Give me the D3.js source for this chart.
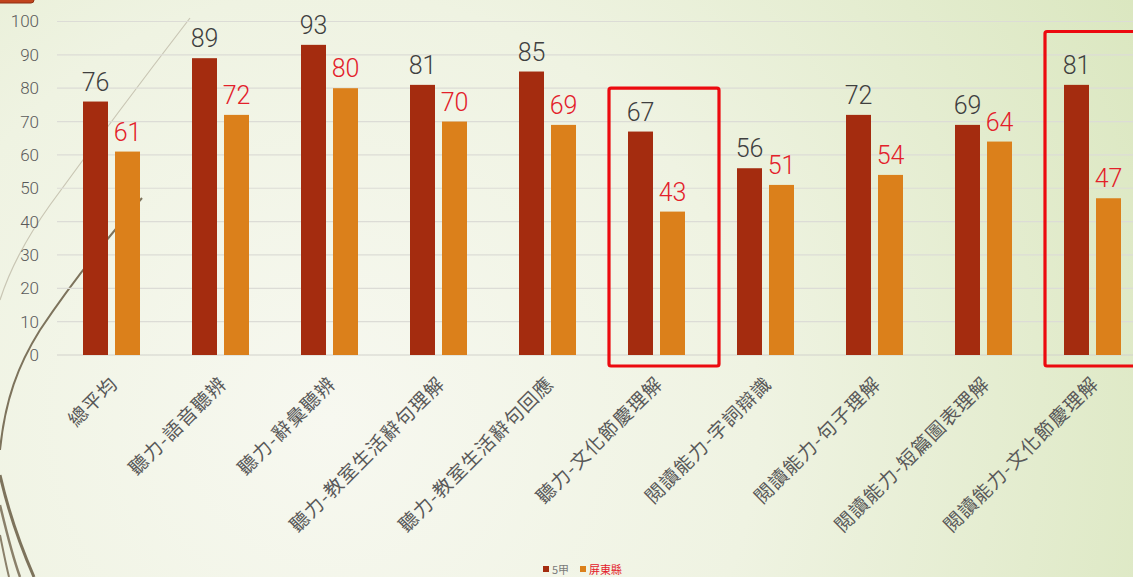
<!DOCTYPE html>
<html>
<head>
<meta charset="utf-8">
<script src="https://cdn.jsdelivr.net/npm/d3@7"></script>
<style>
  html, body { margin: 0; padding: 0; overflow: hidden; }
  svg { display: block; }
</style>
</head>
<body>
<svg id="chart" width="1133" height="577"></svg>
<script>
const categories = ["總平均","聽力-語音聽辨","聽力-辭彙聽辨","聽力-教室生活辭句理解","聽力-教室生活辭句回應","聽力-文化節慶理解","閱讀能力-字詞辯識","閱讀能力-句子理解","閱讀能力-短篇圖表理解","閱讀能力-文化節慶理解"];
const seriesNames = ["5甲","屏東縣"];
const class5 = [76,89,93,81,85,67,56,72,69,81];
const county = [61,72,80,70,69,43,51,54,64,47];
const yTicks = [0,10,20,30,40,50,60,70,80,90,100];
const highlighted = ["聽力-文化節慶理解","閱讀能力-文化節慶理解"];

const W = 1133, H = 577;
const svg = d3.select("#chart");
const defs = svg.append("defs");
const rg = defs.append("radialGradient").attr("id","bg")
  .attr("gradientUnits","userSpaceOnUse").attr("cx",330).attr("cy",420).attr("r",950);
rg.append("stop").attr("offset","0").attr("stop-color","#f7f8f0");
rg.append("stop").attr("offset","0.45").attr("stop-color","#eff3e2");
rg.append("stop").attr("offset","1").attr("stop-color","#d9e6bd");
svg.append("rect").attr("width",W).attr("height",H).attr("fill","url(#bg)");

// decorative wisp curves (theme background)
const deco = svg.append("g").attr("fill","none");
deco.append("path").attr("d","M190,18 C150,70 90,150 50,205 C25,240 8,275 0,300")
  .attr("stroke","#c9c6b4").attr("stroke-width",1.2);
deco.append("path").attr("d","M142,198 C110,235 70,285 40,330 C18,365 5,400 0,450")
  .attr("stroke","#7d735c").attr("stroke-width",2);
deco.append("path").attr("d","M0,475 C8,510 20,545 34,577")
  .attr("stroke","#7d735c").attr("stroke-width",3);
deco.append("path").attr("d","M0,505 C6,530 12,555 20,577")
  .attr("stroke","#8a806a").attr("stroke-width",2.5);
deco.append("path").attr("d","M0,535 C3,550 6,565 9,577")
  .attr("stroke","#8a806a").attr("stroke-width",2);

// top-left tab
svg.append("rect").attr("x",-4).attr("y",-10).attr("width",38).attr("height",13).attr("rx",3)
  .attr("fill","#c1441d").attr("stroke","#8f2f12").attr("stroke-width",1);

const y = d3.scaleLinear().domain([0,100]).range([355,21.5]);
const x = d3.scaleBand().domain(categories).range([56.5,1146.5]);
const xs = d3.scaleBand().domain(seriesNames).range([26.5,83.5]).paddingInner(0.219);

const numFont = "Roboto, 'Liberation Sans', sans-serif";
const cjkFont = "'Noto Sans CJK TC', 'Noto Sans CJK SC', sans-serif";

// grid lines
svg.append("g").selectAll("line").data(yTicks).join("line")
  .attr("x1",57).attr("x2",W).attr("y1",d=>y(d)).attr("y2",d=>y(d))
  .attr("stroke",d=>d===0?"#d2d2cc":"#dcdcd6").attr("stroke-width",1.2);

// y axis labels
const yAxis = d3.axisLeft(y).tickValues(yTicks).tickSize(0).tickPadding(0);
const yg = svg.append("g").attr("transform","translate(39,0)").call(yAxis);
yg.select(".domain").remove();
yg.selectAll("text").attr("font-family",numFont).attr("font-weight",300)
  .attr("font-size",17).attr("fill","#5a5a5a");

const colors = {"5甲":"#a42c0f","屏東縣":"#db801b"};
const labelColors = {"5甲":"#3f3f3f","屏東縣":"#e3202a"};
const rows = categories.map((c,i)=>({cat:c, vals:[{s:"5甲",v:class5[i]},{s:"屏東縣",v:county[i]}]}));

// red highlight boxes
const boxes = svg.append("g");
highlighted.forEach((c,k)=>{
  const bx = x(c);
  const top = k===0 ? y(80) : y(97);
  boxes.append("rect").attr("x",bx+7.5).attr("y",top).attr("width",110)
    .attr("height",y(0)+11-top).attr("rx",2)
    .attr("fill","none").attr("stroke","#ec0a0f").attr("stroke-width",3.2);
});

const groups = svg.append("g").selectAll("g").data(rows).join("g")
  .attr("transform",d=>`translate(${x(d.cat)},0)`);
groups.selectAll("rect").data(d=>d.vals).join("rect")
  .attr("x",d=>xs(d.s)).attr("width",xs.bandwidth())
  .attr("y",d=>y(d.v)).attr("height",d=>y(0)-y(d.v))
  .attr("fill",d=>colors[d.s]);
groups.selectAll("text").data(d=>d.vals).join("text")
  .attr("x",d=>xs(d.s)+xs.bandwidth()/2).attr("y",d=>y(d.v)-11)
  .attr("text-anchor","middle").attr("font-family",numFont).attr("font-weight",300)
  .attr("font-size",25).attr("fill",d=>labelColors[d.s]).text(d=>d.v);

// x labels
svg.append("g").selectAll("text").data(categories).join("text")
  .attr("transform",d=>`translate(${x(d)+x.bandwidth()/2+8},385) rotate(-45)`)
  .attr("text-anchor","end").attr("font-family",cjkFont).attr("font-size",19)
  .attr("letter-spacing",1.2).attr("fill","#595959").text(d=>d);

// legend
const lg = svg.append("g").attr("transform","translate(543,570)");
const items = [{s:"5甲",x:0,tc:"#7a7a7a"},{s:"屏東縣",x:37,tc:"#e3202a"}];
items.forEach(it=>{
  lg.append("rect").attr("x",it.x).attr("y",-4).attr("width",6).attr("height",6).attr("fill",colors[it.s]);
  lg.append("text").attr("x",it.x+9).attr("y",3.5).attr("font-family",cjkFont)
    .attr("font-size",11).attr("fill",it.tc).text(it.s);
});
</script>
</body>
</html>
